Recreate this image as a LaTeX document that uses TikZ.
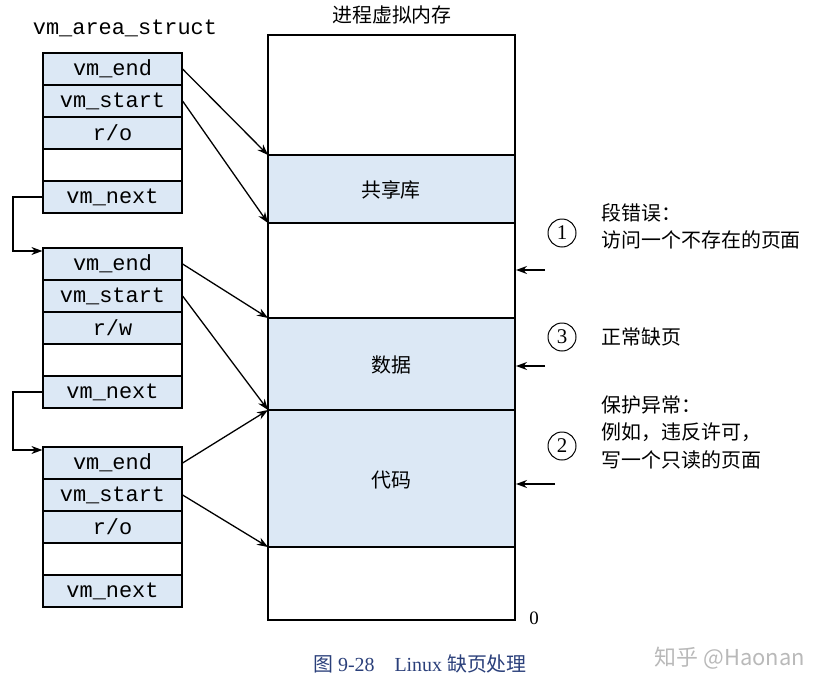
\documentclass[tikz,border=0pt]{standalone}
\usepackage{fontspec}
\setmonofont{Liberation Mono}
\setmainfont{Liberation Serif}
\newfontfamily\cjk{Noto Sans CJK SC}
\usetikzlibrary{arrows.meta}
\definecolor{seg}{HTML}{DCE8F5}
\definecolor{cap}{HTML}{2A3F7A}
\begin{document}
\begin{tikzpicture}[x=1bp,y=-1bp,line width=1.2pt,
  fld/.style={draw,line width=1.2pt,fill=seg,minimum width=139bp,minimum height=32bp,inner sep=0pt,font=\fontsize{22}{22}\selectfont\ttfamily},
  emp/.style={fld,fill=white},
  arr/.style={-{Stealth[length=11bp,width=8bp]},line width=1.3pt},
  cjkt/.style={font=\cjk\fontsize{20}{20}\selectfont,anchor=west,inner sep=0pt},
  circ/.style={draw,circle,line width=1pt,minimum size=28bp,inner sep=0pt,font=\fontsize{21}{21}\selectfont}]
\useasboundingbox (0,0) rectangle (839,691);
% memory
\fill[seg] (268,155) rectangle (515,223);
\fill[seg] (268,318) rectangle (515,547);
\draw (268,35) rectangle (515,620);
\foreach \y in {155,223,318,410,547} \draw (268,\y) -- (515,\y);
\coordinate (sl1) at (268,155); \coordinate (sl2) at (268,223);
\coordinate (d1) at (268,318); \coordinate (d2) at (268,410);
\coordinate (cb) at (268,547);
\node[font=\cjk\fontsize{20}{20}\selectfont] (shl) at (391,190) {共享库};
\node[font=\cjk\fontsize{20}{20}\selectfont] (dat) at (391,365) {数据};
\node[font=\cjk\fontsize{20}{20}\selectfont] (cod) at (391,480) {代码};
\node[font=\cjk\fontsize{20}{20}\selectfont] (ttl) at (392,15) {进程虚拟内存};
\node[font=\fontsize{19}{19}\selectfont] (zero) at (534,618) {0};
\node[font=\fontsize{22}{22}\selectfont\ttfamily] (vas) at (125,28) {vm\_area\_struct};
% structs
\foreach \s/\t/\p in {a/53/o,b/248/w,c/447/o}{
  \node[fld] (\s1) at (112.5,\t+16) {vm\_end};
  \node[fld] (\s2) at (112.5,\t+48) {vm\_start};
  \node[fld] (\s3) at (112.5,\t+80) {r/\p};
  \node[emp] (\s4) at (112.5,\t+112) {};
  \node[fld] (\s5) at (112.5,\t+144) {vm\_next};
}
\coordinate (k1) at (13,197); \coordinate (k2) at (13,251);
\coordinate (k3) at (13,392); \coordinate (k4) at (13,450);
\draw[arr] (a5.west) -- (k1) -- (k2) -- (b1.north west |- k2);
\draw[arr] (b5.west) -- (k3) -- (k4) -- (c1.north west |- k4);
\draw[arr] (a1.east) -- (sl1);
\draw[arr] (a2.east) -- (sl2);
\draw[arr] (b1.east) -- (d1);
\draw[arr] (b2.east) -- (d2);
\draw[arr] (c1.east) -- (d2);
\draw[arr] (c2.east) -- (cb);
% faults
\coordinate (f1) at (545,270); \coordinate (t1) at (516,270);
\coordinate (f3) at (545,366); \coordinate (t3) at (516,366);
\coordinate (f2) at (555,484); \coordinate (t2) at (516,484);
\draw[arr] (f1) -- (t1);
\draw[arr] (f3) -- (t3);
\draw[arr] (f2) -- (t2);
\node[circ] (n1) at (562,233) {1};
\node[circ] (n3) at (562,337) {3};
\node[circ] (n2) at (562,446) {2};
\node[cjkt] (e1) at (601,213) {段错误：};
\node[cjkt] (e2) at (601,240) {访问一个不存在的页面};
\node[cjkt] (e3) at (601,337) {正常缺页};
\node[cjkt] (e4) at (601,405) {保护异常：};
\node[cjkt] (e5) at (601,432) {例如，违反许可，};
\node[cjkt] (e6) at (601,460) {写一个只读的页面};
\node[text=cap,font=\fontsize{20}{20}\selectfont] (capt) at (420,664) {{\cjk 图} 9-28\quad Linux {\cjk 缺页处理}};
\node[text=gray!55,font=\cjk\fontsize{22}{22}\selectfont] (wm) at (730,658) {知乎 @Haonan};
\end{tikzpicture}
\end{document}
